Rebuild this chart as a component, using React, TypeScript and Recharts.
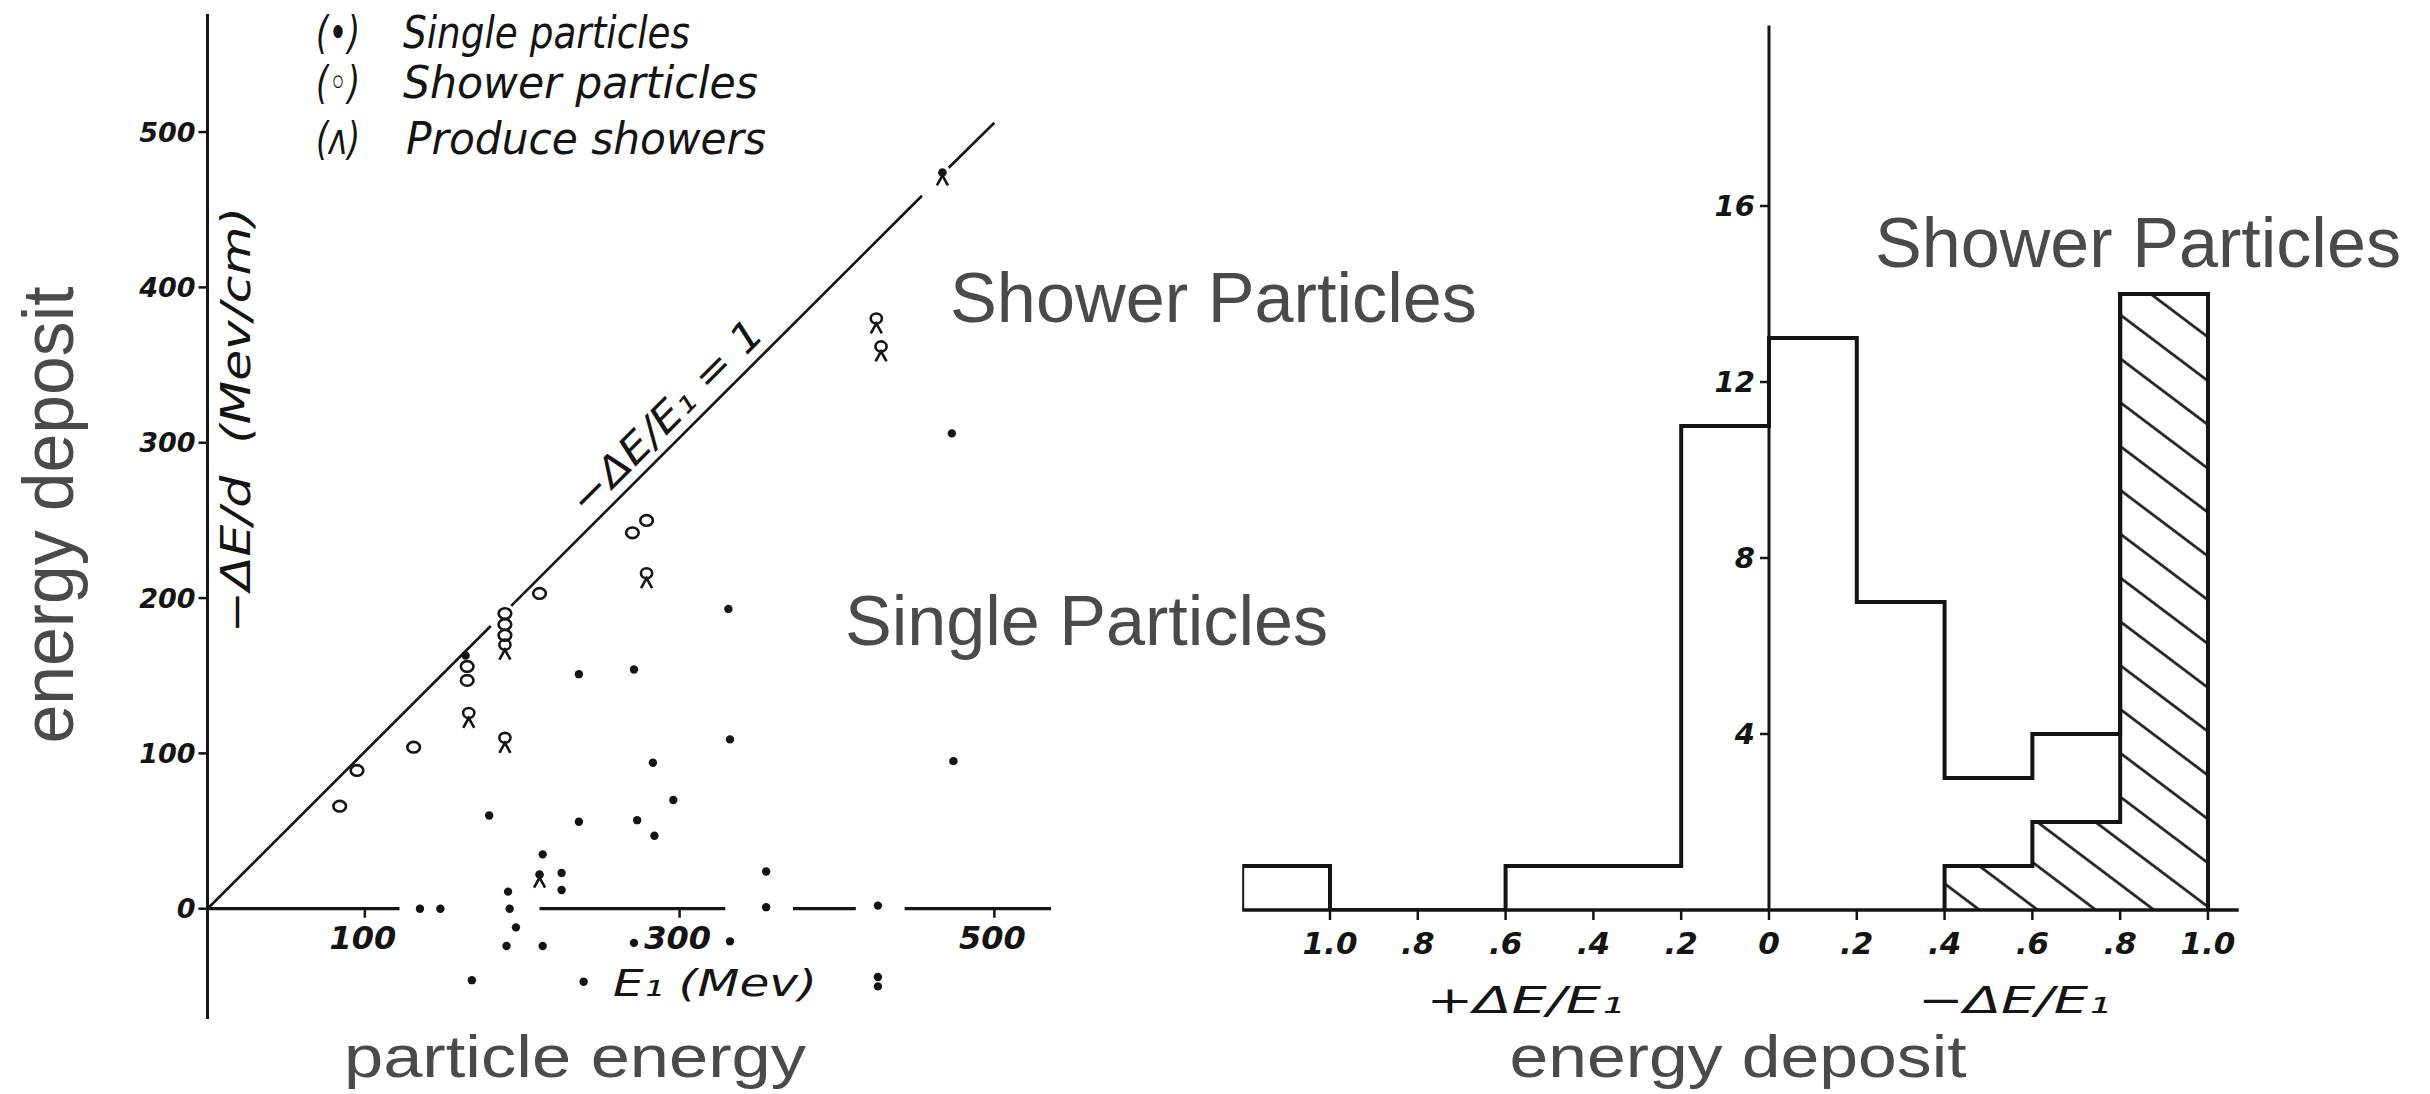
import React from 'react';
import {
  ScatterChart,
  Scatter,
  ComposedChart,
  Line,
  Area,
  XAxis,
  YAxis,
  ReferenceLine,
  ReferenceDot,
} from 'recharts';

// ---- Left panel: -ΔE/d (MeV/cm) against incident energy E1 (MeV) ----
const singleParticles = [
  { x: 236, y: 151 }, { x: 271, y: 154 }, { x: 283, y: 94 }, { x: 296, y: 70 },
  { x: 179, y: 60 }, { x: 236, y: 56 }, { x: 273, y: 57 }, { x: 284, y: 47 },
  { x: 213, y: 35 }, { x: 225, y: 23 }, { x: 225, y: 12 }, { x: 191, y: 11 },
  { x: 192, y: 0 }, { x: 196, y: -12 }, { x: 190, y: -24 }, { x: 213, y: -24 },
  { x: 168, y: -46 }, { x: 239, y: -47 }, { x: 271, y: -22 }, { x: 332, y: -21 },
  { x: 331, y: 193 }, { x: 332, y: 109 }, { x: 355, y: 24 }, { x: 355, y: 1 },
  { x: 426, y: 2 }, { x: 426, y: -44 }, { x: 426, y: -50 }, { x: 474, y: 95 },
  { x: 473, y: 306 }, { x: 135, y: 0 }, { x: 148, y: 0 }, { x: 164, y: 163 },
];

const showerParticles = [
  { x: 84, y: 66 }, { x: 95, y: 89 }, { x: 131, y: 104 }, { x: 165, y: 156 },
  { x: 165, y: 147 }, { x: 189, y: 190 }, { x: 189, y: 183 }, { x: 189, y: 176 },
  { x: 211, y: 203 }, { x: 270, y: 242 }, { x: 279, y: 250 },
];

// shower particles that went on to produce showers
const showerProducers = [
  { x: 166, y: 126 }, { x: 189, y: 110 }, { x: 189, y: 170 },
  { x: 279, y: 216 }, { x: 425, y: 380 }, { x: 428, y: 362 },
];

// single particles that produced showers
const singleProducers = [
  { x: 467, y: 474 }, { x: 211, y: 22 },
];

const energyTicks = [100, 300, 500];
const lossTicks = [0, 100, 200, 300, 400, 500];

// the drawn E1 axis at zero loss is broken where points sit on it
const zeroLineRuns = [
  [0, 122], [211, 329], [372, 412], [443, 536],
];

// -ΔE/E1 = 1 line, interrupted around the markers that touch it
const unitLossRuns = [
  [0, 0, 180, 182],
  [193, 195, 454, 459],
  [471, 477, 500, 506],
];

// ---- Right panel: histogram of ΔE/E1 ----
const binEdges = [-1.2, -1.0, -0.8, -0.6, -0.4, -0.2, 0, 0.2, 0.4, 0.6, 0.8, 1.0];
const allCounts = [1, 0, 0, 1, 1, 11, 13, 7, 3, 4, 14];
const showerCounts = [0, 0, 0, 0, 0, 0, 0, 0, 1, 2, 14];
const fractionTicks = [-1.0, -0.8, -0.6, -0.4, -0.2, 0, 0.2, 0.4, 0.6, 0.8, 1.0];
const countTicks = [4, 8, 12, 16];

const INK = '#141414';
const GREY = '#4a4a4a';
const SCAN_FONT = "'DejaVu Sans', sans-serif";
const SLIDE_FONT = "'Liberation Sans', Arial, sans-serif";

function stepOutline(edges: number[], counts: number[]) {
  let from = 0;
  while (from < counts.length && counts[from] === 0) from++;
  const pts: { x: number; y: number }[] = [{ x: edges[from], y: 0 }];
  for (let i = from; i < counts.length; i++) {
    pts.push({ x: edges[i], y: counts[i] });
    pts.push({ x: edges[i + 1], y: counts[i] });
  }
  pts.push({ x: edges[counts.length], y: 0 });
  return pts;
}

const allSteps = stepOutline(binEdges, allCounts);
const showerSteps = stepOutline(binEdges, showerCounts);

const fractionLabel = (v: number) => {
  const a = Math.abs(v);
  if (a === 0) return '0';
  if (Math.abs(a - 1) < 1e-9) return '1.0';
  return '.' + Math.round(a * 10);
};

// ---- marker shapes ----
const DotMark = (p: any) => <circle cx={p.cx} cy={p.cy} r={4.2} fill={INK} />;

const RingMark = (p: any) => (
  <ellipse cx={p.cx} cy={p.cy} rx={6.3} ry={5.3} fill="none" stroke={INK} strokeWidth={2.6} />
);

const RingLegsMark = (p: any) => (
  <g>
    <ellipse cx={p.cx} cy={p.cy} rx={5.6} ry={5} fill="none" stroke={INK} strokeWidth={2.6} />
    <path
      d={`M${p.cx - 5.5},${p.cy + 15} L${p.cx},${p.cy + 5} L${p.cx + 5.5},${p.cy + 15}`}
      fill="none"
      stroke={INK}
      strokeWidth={2.6}
    />
  </g>
);

const DotLegsMark = (p: any) => (
  <g>
    <circle cx={p.cx} cy={p.cy} r={4.3} fill={INK} />
    <path
      d={`M${p.cx - 5.5},${p.cy + 13} L${p.cx},${p.cy + 3} L${p.cx + 5.5},${p.cy + 13}`}
      fill="none"
      stroke={INK}
      strokeWidth={2.6}
    />
  </g>
);

const energyTickShape = (v: number) => (p: any) => (
  <g>
    <line x1={p.cx} y1={p.cy} x2={p.cx} y2={p.cy + 9} stroke={INK} strokeWidth={2.5} />
    <text
      x={p.cx - 2}
      y={p.cy + 40}
      textAnchor="middle"
      fontFamily={SCAN_FONT}
      fontStyle="italic"
      fontWeight={700}
      fontSize={32}
      fill={INK}
    >
      {v}
    </text>
  </g>
);

const countTickShape = (v: number) => (p: any) => (
  <g>
    <line x1={p.cx - 9} y1={p.cy} x2={p.cx} y2={p.cy} stroke={INK} strokeWidth={2.5} />
    <text
      x={p.cx - 14}
      y={p.cy}
      dy="0.36em"
      textAnchor="end"
      fontFamily={SCAN_FONT}
      fontStyle="italic"
      fontWeight={700}
      fontSize={29}
      fill={INK}
    >
      {v}
    </text>
  </g>
);

const scanText = {
  fontFamily: SCAN_FONT,
  fontStyle: 'italic' as const,
  fill: INK,
};

const slideText = {
  fontFamily: SLIDE_FONT,
  fill: GREY,
};

export default function App() {
  return (
    <div
      style={{
        position: 'absolute',
        left: 0,
        top: 0,
        width: 2430,
        height: 1094,
        background: '#ffffff',
        overflow: 'hidden',
      }}
    >
      <div style={{ position: 'absolute', left: 0, top: 0 }}>
        <ScatterChart width={1100} height={1094} margin={{ top: 14, right: 49, bottom: 75, left: 147.5 }}>
          <XAxis type="number" dataKey="x" domain={[0, 536]} allowDataOverflow hide />
          <YAxis
            type="number"
            dataKey="y"
            domain={[-71, 576]}
            allowDataOverflow
            width={60}
            ticks={lossTicks}
            interval={0}
            tickSize={9}
            tickMargin={3}
            axisLine={{ stroke: INK, strokeWidth: 3 }}
            tickLine={{ stroke: INK, strokeWidth: 2.5 }}
            tick={{ fill: INK, fontSize: 27, fontStyle: 'italic', fontWeight: 700, fontFamily: SCAN_FONT }}
          />
          {zeroLineRuns.map(([a, b]) => (
            <ReferenceLine
              key={`z${a}`}
              segment={[{ x: a, y: 0 }, { x: b, y: 0 }]}
              stroke={INK}
              strokeWidth={3.2}
              ifOverflow="visible"
            />
          ))}
          {unitLossRuns.map(([x1, y1, x2, y2]) => (
            <ReferenceLine
              key={`u${x1}`}
              segment={[{ x: x1, y: y1 }, { x: x2, y: y2 }]}
              stroke={INK}
              strokeWidth={2.6}
              ifOverflow="visible"
            />
          ))}
          {energyTicks.map((v) => (
            <ReferenceDot key={`e${v}`} x={v} y={0} r={1} ifOverflow="visible" shape={energyTickShape(v)} />
          ))}
          <Scatter data={singleParticles} shape={DotMark} isAnimationActive={false} />
          <Scatter data={showerParticles} shape={RingMark} isAnimationActive={false} />
          <Scatter data={showerProducers} shape={RingLegsMark} isAnimationActive={false} />
          <Scatter data={singleProducers} shape={DotLegsMark} isAnimationActive={false} />
        </ScatterChart>
      </div>

      <div style={{ position: 'absolute', left: 1150, top: 0 }}>
        <ComposedChart width={1280} height={1094} margin={{ top: 25.6, right: 191.3, bottom: 154, left: 92.2 }}>
          <defs>
            <pattern
              id="hatch"
              patternUnits="userSpaceOnUse"
              width={12}
              height={35}
              patternTransform="rotate(37)"
            >
              <line x1={0} y1={17.5} x2={12} y2={17.5} stroke={INK} strokeWidth={2.6} />
            </pattern>
          </defs>
          <XAxis
            type="number"
            dataKey="x"
            domain={[-1.2, 1.07]}
            allowDataOverflow
            ticks={fractionTicks}
            interval={0}
            tickFormatter={fractionLabel}
            height={30}
            tickSize={10}
            tickMargin={12}
            axisLine={{ stroke: INK, strokeWidth: 3.5 }}
            tickLine={{ stroke: INK, strokeWidth: 2.5 }}
            tick={{ fill: INK, fontSize: 31, fontStyle: 'italic', fontWeight: 700, fontFamily: SCAN_FONT }}
          />
          <YAxis type="number" domain={[0, 20.1]} allowDataOverflow hide />
          <ReferenceLine x={0} stroke={INK} strokeWidth={3} ifOverflow="visible" />
          {countTicks.map((v) => (
            <ReferenceDot key={`c${v}`} x={0} y={v} r={1} ifOverflow="visible" shape={countTickShape(v)} />
          ))}
          <Area
            data={showerSteps}
            dataKey="y"
            type="linear"
            baseValue={0}
            fill="url(#hatch)"
            fillOpacity={1}
            stroke={INK}
            strokeWidth={4}
            isAnimationActive={false}
          />
          <Line
            data={allSteps}
            dataKey="y"
            type="linear"
            dot={false}
            stroke={INK}
            strokeWidth={4}
            isAnimationActive={false}
          />
        </ComposedChart>
      </div>

      <svg
        width={2430}
        height={1094}
        style={{ position: 'absolute', left: 0, top: 0, pointerEvents: 'none' }}
      >
        {/* key */}
        <g {...scanText} fontSize={44}>
          <text x={316} y={48} textLength={44} lengthAdjust="spacingAndGlyphs">(•)</text>
          <text x={403} y={48} textLength={287} lengthAdjust="spacingAndGlyphs">Single particles</text>
          <text x={316} y={98} textLength={44} lengthAdjust="spacingAndGlyphs">(◦)</text>
          <text x={403} y={98} textLength={355} lengthAdjust="spacingAndGlyphs">Shower particles</text>
          <text x={316} y={154} textLength={44} lengthAdjust="spacingAndGlyphs">(ʌ)</text>
          <text x={406} y={154} textLength={360} lengthAdjust="spacingAndGlyphs">Produce showers</text>
        </g>

        {/* hand-lettered axis titles */}
        <text
          {...scanText}
          fontSize={40}
          textAnchor="middle"
          transform="translate(250,420) rotate(-90)"
          textLength={426}
          lengthAdjust="spacingAndGlyphs"
        >
          −ΔE/d{'\u00a0\u00a0'}(Mev/cm)
        </text>
        <text
          {...scanText}
          fontSize={40}
          textAnchor="middle"
          transform="translate(676,426) rotate(-45)"
          textLength={255}
          lengthAdjust="spacingAndGlyphs"
        >
          −ΔE/E₁ = 1
        </text>
        <text {...scanText} fontSize={38} x={715} y={996} textAnchor="middle" textLength={204} lengthAdjust="spacingAndGlyphs">
          E₁ (Mev)
        </text>
        <text {...scanText} fontSize={38} x={1525} y={1013} textAnchor="middle" textLength={197} lengthAdjust="spacingAndGlyphs">
          +ΔE/E₁
        </text>
        <text {...scanText} fontSize={38} x={2014} y={1013} textAnchor="middle" textLength={192} lengthAdjust="spacingAndGlyphs">
          −ΔE/E₁
        </text>

        {/* slide annotations */}
        <text {...slideText} fontSize={71} x={950} y={322} textLength={527} lengthAdjust="spacingAndGlyphs">
          Shower Particles
        </text>
        <text {...slideText} fontSize={71} x={845} y={645} textLength={483} lengthAdjust="spacingAndGlyphs">
          Single Particles
        </text>
        <text {...slideText} fontSize={71} x={1875} y={267} textLength={526} lengthAdjust="spacingAndGlyphs">
          Shower Particles
        </text>
        <text
          {...slideText}
          fontSize={72}
          textAnchor="middle"
          transform="translate(73,515) rotate(-90)"
          textLength={457}
          lengthAdjust="spacingAndGlyphs"
        >
          energy deposit
        </text>
        <text {...slideText} fontSize={60} x={575} y={1077} textAnchor="middle" textLength={462} lengthAdjust="spacingAndGlyphs">
          particle energy
        </text>
        <text {...slideText} fontSize={60} x={1738} y={1077} textAnchor="middle" textLength={457} lengthAdjust="spacingAndGlyphs">
          energy deposit
        </text>
      </svg>
    </div>
  );
}
